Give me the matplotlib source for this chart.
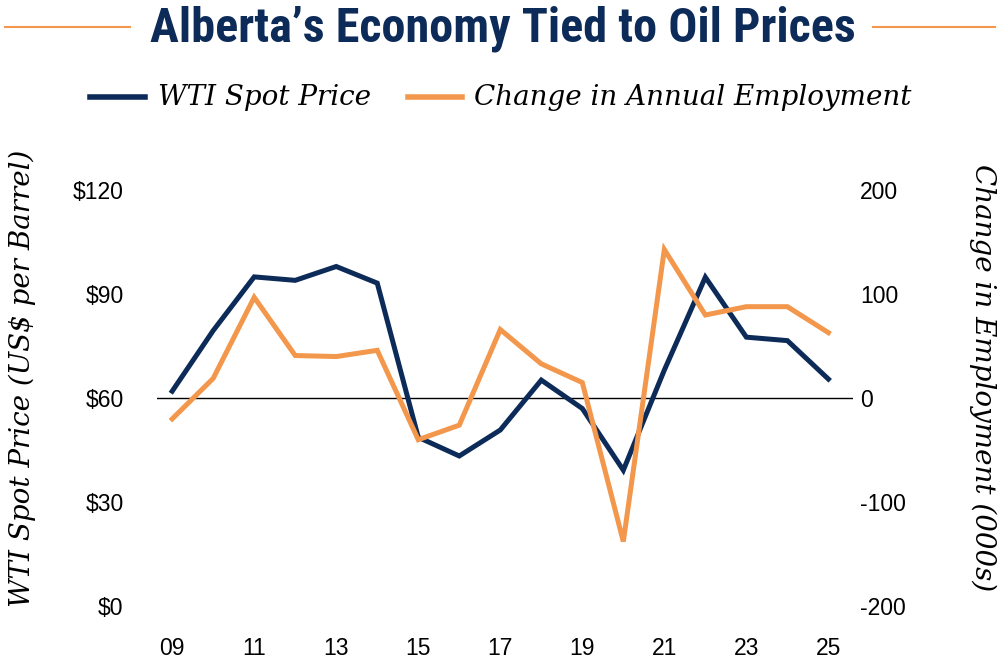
import matplotlib
matplotlib.use("Agg")
import matplotlib.pyplot as plt
from matplotlib.lines import Line2D
from matplotlib import font_manager

years = [2009, 2010, 2011, 2012, 2013, 2014, 2015, 2016, 2017,
         2018, 2019, 2020, 2021, 2022, 2023, 2024, 2025]
wti_price = [62.0, 79.5, 95.0, 94.0, 98.0, 93.2, 48.7, 43.3, 50.8,
             65.2, 57.0, 39.2, 68.1, 94.9, 77.6, 76.6, 65.5]
employment_change = [-20, 19, 97, 41, 40, 46, -40, -26, 66,
                     33, 15, -138, 143, 80, 88, 88, 63]
x_ticks = [2009, 2011, 2013, 2015, 2017, 2019, 2021, 2023, 2025]
x_tick_labels = ["09", "11", "13", "15", "17", "19", "21", "23", "25"]
left_ticks = [0, 30, 60, 90, 120]
left_tick_labels = ["$0", "$30", "$60", "$90", "$120"]
right_ticks = [-200, -100, 0, 100, 200]
right_tick_labels = ["-200", "-100", "0", "100", "200"]

navy = "#0d2b58"
orange = "#f3974c"
serif_it = ["DejaVu Serif"]
sans = ["Liberation Sans", "DejaVu Sans"]

# pick a narrow face for the title if one is installed
installed = {f.name for f in font_manager.fontManager.ttflist}
title_font = "Roboto"
for cand in ["Roboto Condensed", "DejaVu Sans Condensed", "Liberation Sans Narrow",
             "Noto Sans Condensed", "Open Sans Condensed", "Roboto"]:
    if cand in installed:
        title_font = cand
        break

fig = plt.figure(figsize=(10, 6.63), dpi=100)
ax = fig.add_axes([0.157, 0.086, 0.696, 0.627])
ax2 = ax.twinx()

ax.axhline(60, color="black", lw=1.0, zorder=1)
ax.plot(years, wti_price, color=navy, lw=3.6, solid_joinstyle="miter", zorder=3)
ax2.plot(years, employment_change, color=orange, lw=3.6, solid_joinstyle="miter", zorder=2)

ax.set_xlim(2008.63, 2025.6)
ax.set_ylim(0, 120)
ax2.set_ylim(-200, 200)

ax.set_xticks(x_ticks)
ax.set_xticklabels(x_tick_labels, fontfamily=sans, fontsize=16.5)
ax.set_yticks(left_ticks)
ax.set_yticklabels(left_tick_labels, fontfamily=sans, fontsize=16.5)
ax2.set_yticks(right_ticks)
ax2.set_yticklabels(right_tick_labels, fontfamily=sans, fontsize=16.5)

for a in (ax, ax2):
    for s in a.spines.values():
        s.set_visible(False)
    a.tick_params(length=0)
ax.tick_params(axis="y", pad=24)
ax.tick_params(axis="x", pad=22)
ax2.tick_params(axis="y", pad=5)

fig.text(0.022, 0.43, "WTI Spot Price (US$ per Barrel)", rotation=90,
         ha="center", va="center", fontsize=20, style="italic", family=serif_it)
fig.text(0.983, 0.43, "Change in Employment (000s)", rotation=-90,
         ha="center", va="center", fontsize=20, style="italic", family=serif_it)

# title with orange rules on both sides
title = fig.text(0.503, 0.956, "Alberta\u2019s Economy Tied to Oil Prices", ha="center", va="center",
                 fontsize=30, fontweight="bold", color=navy, family=title_font)
fig.canvas.draw()
w = title.get_window_extent().width
title.set_fontsize(30 * 706 / w)
fig.add_artist(Line2D([0.005, 0.13], [0.959, 0.959], color=orange, lw=1.5))
fig.add_artist(Line2D([0.873, 0.995], [0.959, 0.959], color=orange, lw=1.5))

# legend
ly = 0.853
fig.add_artist(Line2D([0.09, 0.145], [ly, ly], color=navy, lw=4))
fig.text(0.158, ly, "WTI Spot Price", ha="left", va="center",
         fontsize=20, style="italic", family=serif_it)
fig.add_artist(Line2D([0.408, 0.462], [ly, ly], color=orange, lw=4))
fig.text(0.474, ly, "Change in Annual Employment", ha="left", va="center",
         fontsize=20, style="italic", family=serif_it)

fig.savefig("out.png", dpi=100)
